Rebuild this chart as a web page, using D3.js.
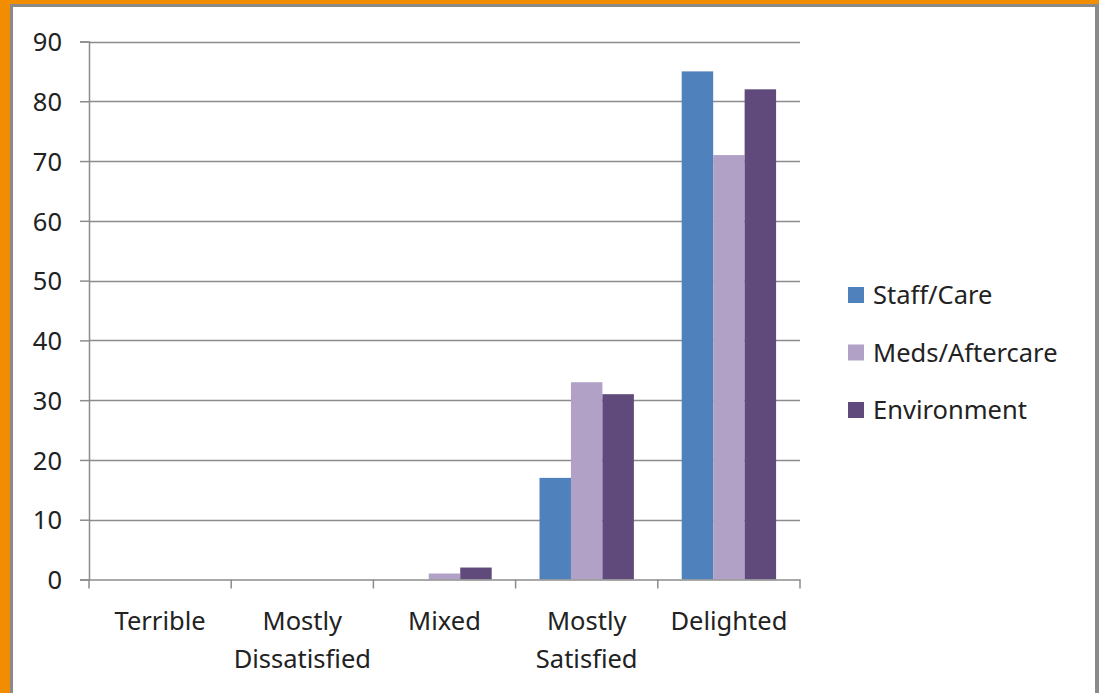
<!DOCTYPE html>
<html>
<head>
<meta charset="utf-8">
<script src="https://cdn.jsdelivr.net/npm/d3@7"></script>
<style>
body{margin:0;background:#fff;}
text{font-family:"Noto Sans", sans-serif;fill:#222;}
</style>
</head>
<body>
<svg id="chart"></svg>
<script>
var categories = ["Terrible", "Mostly Dissatisfied", "Mixed", "Mostly Satisfied", "Delighted"];
var seriesNames = ["Staff/Care", "Meds/Aftercare", "Environment"];
var staffCare = [0, 0, 0, 17, 85];
var medsAftercare = [0, 0, 1, 33, 71];
var environment = [0, 0, 2, 31, 82];
var yTicks = [0, 10, 20, 30, 40, 50, 60, 70, 80, 90];
var colors = ["#4f81bd", "#b2a1c7", "#604a7b"];

var width = 1099, height = 693;
var margin = {left: 89, right: 299, top: 41.5, bottom: 113.5};
var fontSize = "25.5px";

var svg = d3.select("#chart")
  .attr("width", width)
  .attr("height", height);

// frame
svg.append("rect").attr("x", 0).attr("y", 0).attr("width", width).attr("height", height).attr("fill", "#f28c00");
svg.append("rect").attr("x", 10).attr("y", 4).attr("width", width - 10).attr("height", height).attr("fill", "#8a8a8a");
svg.append("rect").attr("x", 13).attr("y", 7).attr("width", width - 17).attr("height", height).attr("fill", "#fff");

var table = categories.map(function(c, i) {
  return {cat: c, vals: [staffCare[i], medsAftercare[i], environment[i]]};
});

var xScale = d3.scaleBand()
  .domain(categories)
  .range([margin.left, width - margin.right]);
var xInner = d3.scaleBand()
  .domain(seriesNames)
  .range([0, xScale.bandwidth()])
  .paddingOuter(0.76);
var yScale = d3.scaleLinear()
  .domain([0, 90])
  .range([height - margin.bottom, margin.top]);

// gridlines
svg.append("g")
  .selectAll("line")
  .data(yTicks.slice(1))
  .enter()
  .append("line")
  .attr("x1", margin.left)
  .attr("x2", width - margin.right)
  .attr("y1", function(d){ return Math.round(yScale(d)) + 0.5; })
  .attr("y2", function(d){ return Math.round(yScale(d)) + 0.5; })
  .attr("stroke", "#8c8c8c")
  .attr("stroke-width", 1.5);

// bars
var groups = svg.append("g")
  .selectAll("g")
  .data(table)
  .enter()
  .append("g")
  .attr("transform", function(d){ return "translate(" + xScale(d.cat) + ",0)"; });
groups.selectAll("rect")
  .data(function(d){ return d.vals.map(function(v, i){ return {name: seriesNames[i], v: v, i: i}; }); })
  .enter()
  .append("rect")
  .attr("x", function(d){ return xInner(d.name); })
  .attr("width", xInner.bandwidth())
  .attr("y", function(d){ return yScale(d.v); })
  .attr("height", function(d){ return yScale(0) - yScale(d.v); })
  .attr("fill", function(d){ return colors[d.i]; });

// y axis
var yAxis = d3.axisLeft(yScale).tickValues(yTicks).tickSize(9).tickPadding(18);
var yG = svg.append("g")
  .attr("transform", "translate(" + margin.left + ",0)")
  .call(yAxis);
yG.select(".domain").attr("stroke", "#8c8c8c").attr("stroke-width", 1.5);
yG.selectAll(".tick line").attr("stroke", "#8c8c8c").attr("stroke-width", 1.5);
yG.selectAll(".tick text").style("font-size", fontSize).attr("dy", "0.36em");

// x axis
var xAxis = d3.axisBottom(xScale).tickSize(0).tickFormat("");
var xG = svg.append("g")
  .attr("transform", "translate(0," + (height - margin.bottom) + ")")
  .call(xAxis);
xG.select(".domain").attr("stroke", "#8c8c8c").attr("stroke-width", 1.5);
xG.selectAll(".tick").remove();
var bounds = categories.map(function(c){ return xScale(c); }).concat([xScale.range()[1]]);
xG.selectAll("line.sep")
  .data(bounds)
  .enter()
  .append("line")
  .attr("class", "sep")
  .attr("x1", function(d){ return d; })
  .attr("x2", function(d){ return d; })
  .attr("y1", 0)
  .attr("y2", 9)
  .attr("stroke", "#8c8c8c")
  .attr("stroke-width", 1.5);

// category labels (wrapped in two lines)
var labels = xG.selectAll("text.cat")
  .data(categories)
  .enter()
  .append("text")
  .attr("class", "cat")
  .attr("text-anchor", "middle")
  .style("font-size", fontSize)
  .attr("x", function(d){ return xScale(d) + xScale.bandwidth() / 2; });
labels.each(function(d){
  var words = d.split(" ");
  var t = d3.select(this);
  words.forEach(function(w, i){
    t.append("tspan")
      .attr("x", xScale(d) + xScale.bandwidth() / 2)
      .attr("y", 50 + i * 38)
      .text(w);
  });
});

// legend
var legend = svg.append("g")
  .attr("transform", "translate(848,287)");
var items = legend.selectAll("g")
  .data(seriesNames)
  .enter()
  .append("g")
  .attr("transform", function(d, i){ return "translate(0," + (i * 57.5) + ")"; });
items.append("rect")
  .attr("width", 16)
  .attr("height", 16)
  .attr("fill", function(d, i){ return colors[i]; });
items.append("text")
  .attr("x", 25)
  .attr("y", 8)
  .attr("dy", "0.36em")
  .style("font-size", fontSize)
  .text(function(d){ return d; });
</script>
</body>
</html>
